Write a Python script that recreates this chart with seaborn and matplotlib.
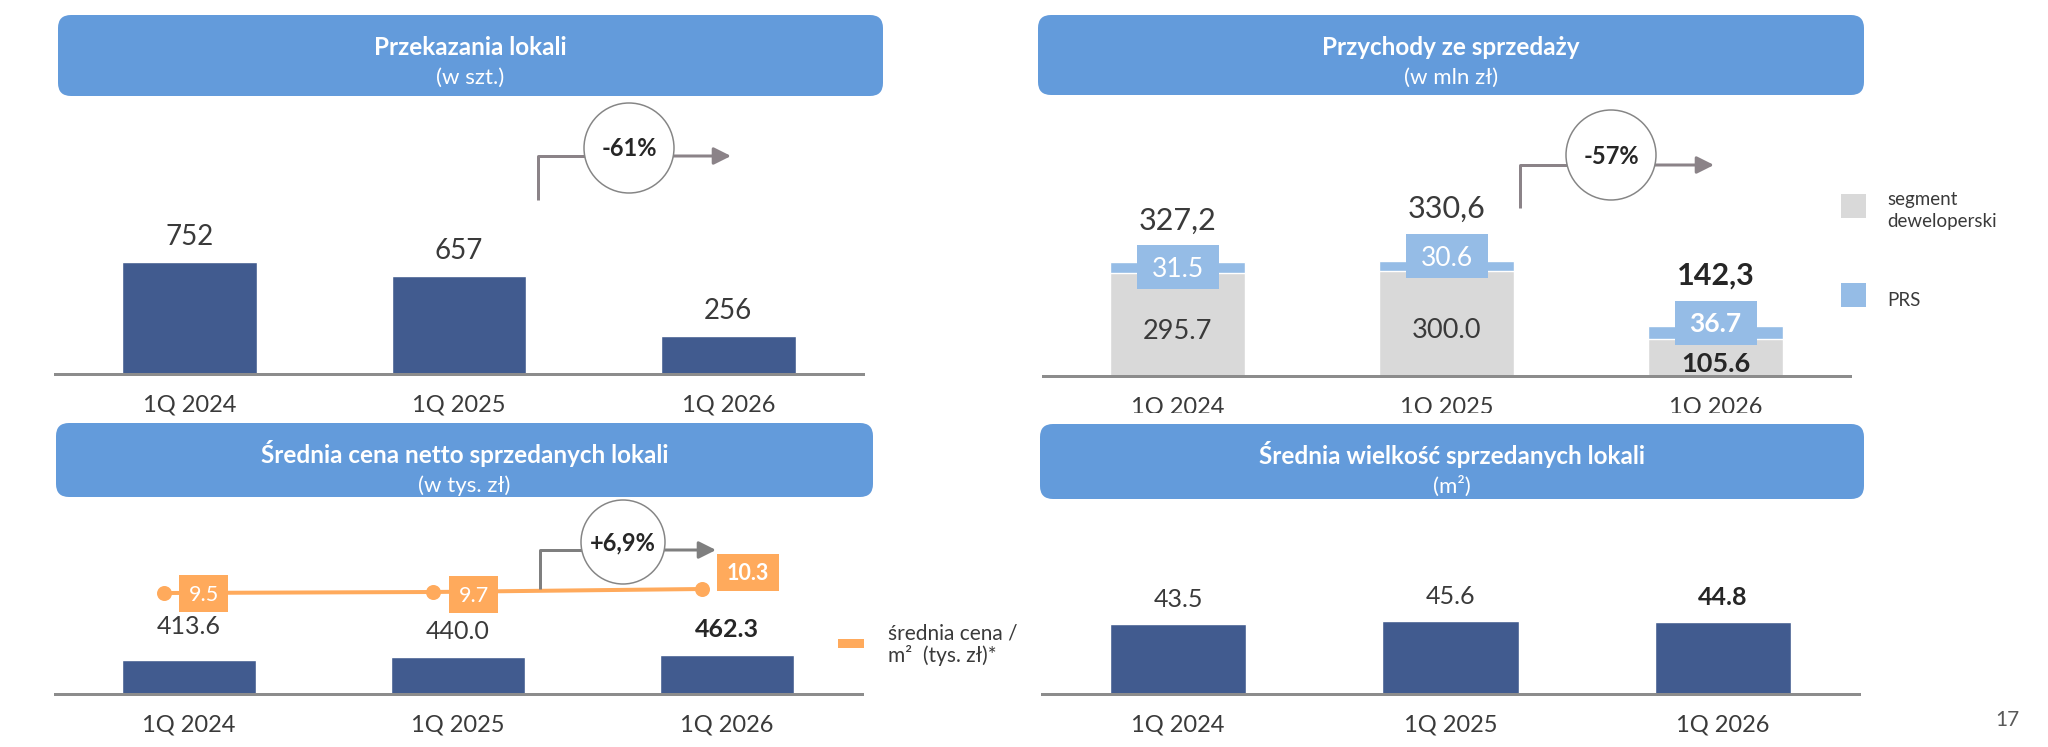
import numpy as np
import matplotlib
matplotlib.use('Agg')
import matplotlib.pyplot as plt
from matplotlib.patches import FancyBboxPatch, Rectangle, Ellipse
import seaborn as sns

sns.set_style('white')
plt.rcParams['font.family'] = ['Lato', 'DejaVu Sans']

W, H = 2048, 747
PT = 72 / 100          # points per pixel at dpi 100

# ── Data ─────────────────────────────────────────────────────────────────────
QUARTERS  = ['1Q 2024', '1Q 2025', '1Q 2026']
HANDOVERS = [752, 657, 256]                 # przekazania lokali (szt.)
REV_DEV   = [295.7, 300.0, 105.6]           # segment deweloperski (mln zł)
REV_PRS   = [31.5, 30.6, 36.7]              # PRS (mln zł)
AVG_PRICE = [413.6, 440.0, 462.3]           # średnia cena netto (tys. zł)
PRICE_M2  = [9.5, 9.7, 10.3]                # średnia cena / m2 (tys. zł)
AVG_SIZE  = [43.5, 45.6, 44.8]              # średnia wielkość (m2)
CHANGES   = ['-61%', '-57%', '+6,9%']

# ── Colours ──────────────────────────────────────────────────────────────────
HEADER  = '#639BDB'
NAVY    = '#415B8F'
GREY    = '#D9D9D9'
PRS     = '#95BCE6'
ORANGE  = '#FFAA5C'
TXT     = '#3A3A3A'
DARK    = '#262626'
AXIS    = '#8C8C8C'
ARROW_A = '#8B8388'
ARROW_B = '#7F7F7F'

fig = plt.figure(figsize=(W / 100, H / 100), dpi=100)
fig.patch.set_facecolor('white')


def panel(x0, x1, base, top):
    return fig.add_axes([x0 / W, 1 - base / H, (x1 - x0) / W, (base - top) / H])


def finish(ax, base, top, ppu):
    ax.set_xlim(-0.5, 2.5)
    ax.set_ylim(0, (base - top) / ppu)
    ax.set_yticks([])
    ax.set_xlabel('')
    ax.set_ylabel('')
    for side in ['top', 'right', 'left']:
        ax.spines[side].set_visible(False)
    ax.spines['bottom'].set_color(AXIS)
    ax.spines['bottom'].set_linewidth(3 * PT)
    ax.tick_params(axis='x', length=0, pad=15, labelsize=17, labelcolor=TXT)
    ax.patch.set_alpha(0)


# ── Panel 1: Przekazania lokali ──────────────────────────────────────────────
P1 = dict(base=374, top=100, ppu=112 / 752)
ax1 = panel(55, 863, P1['base'], P1['top'])
sns.barplot(x=QUARTERS, y=HANDOVERS, color=NAVY, saturation=1, width=0.5, ax=ax1)
finish(ax1, **P1)

# ── Panel 2: Przychody ze sprzedaży (stacked) ────────────────────────────────
rev_total = [d + p for d, p in zip(REV_DEV, REV_PRS)]
P2 = dict(base=376, top=100, ppu=114 / 327.2)
ax2 = panel(1043, 1850, P2['base'], P2['top'])
sns.barplot(x=QUARTERS, y=rev_total, color=PRS, saturation=1, width=0.5, ax=ax2)
sns.barplot(x=QUARTERS, y=REV_DEV, color=GREY, saturation=1, width=0.5, ax=ax2)
finish(ax2, **P2)

# ── Panel 3: Średnia cena netto + cena / m2 ──────────────────────────────────
P3 = dict(base=694, top=510, ppu=0.0834)
ax3 = panel(54.5, 861.5, P3['base'], P3['top'])
sns.barplot(x=QUARTERS, y=AVG_PRICE, color=NAVY, saturation=1, width=0.5, ax=ax3)
ax3t = ax3.twinx()
sns.lineplot(x=np.arange(len(PRICE_M2)) - 0.093, y=PRICE_M2, ax=ax3t,
             color=ORANGE, lw=4 * PT, marker='o', markersize=15 * PT,
             markeredgewidth=0)
ax3t.set_ylim(-10.7, 26.1)
ax3t.set_yticks([])
ax3t.set_ylabel('')
for sp in ax3t.spines.values():
    sp.set_visible(False)
finish(ax3, **P3)

# ── Panel 4: Średnia wielkość ────────────────────────────────────────────────
P4 = dict(base=694, top=510, ppu=70 / 43.5)
ax4 = panel(1042, 1859, P4['base'], P4['top'])
sns.barplot(x=QUARTERS, y=AVG_SIZE, color=NAVY, saturation=1, width=0.5, ax=ax4)
finish(ax4, **P4)

# ── Overlay in pixel coordinates ─────────────────────────────────────────────
ov = fig.add_axes([0, 0, 1, 1], zorder=10)
ov.set_xlim(0, W)
ov.set_ylim(H, 0)
ov.axis('off')


def to_px(ax, x, y):
    dx, dy = ax.transData.transform((x, y))
    return dx, H - dy


def label(x, yc, s, size, color=TXT, bold=False, ha='center', z=3):
    # vertically centre the cap height on yc
    ov.text(x, yc + 0.36 * size / PT, s, fontsize=size, color=color, ha=ha,
            va='baseline', fontweight='bold' if bold else 'normal', zorder=z)


def header(x0, y0, x1, y1, title, sub):
    ov.add_patch(FancyBboxPatch((x0, y0), x1 - x0, y1 - y0,
                                boxstyle='round,pad=0,rounding_size=13',
                                fc=HEADER, ec='none'))
    cx = (x0 + x1) / 2
    label(cx, y0 + 31, title, 17.5, color='white', bold=True)
    label(cx, y0 + 61, sub, 16, color='white')


def badge(vx, vy0, ly, cx, cy, r, x_end, s, color):
    ov.plot([vx, vx, cx], [vy0, ly, ly], color=color, lw=3 * PT,
            solid_capstyle='butt')
    ov.annotate('', xy=(x_end, ly), xytext=(cx, ly),
                arrowprops=dict(arrowstyle='-|>', color=color, lw=3 * PT,
                                mutation_scale=26, shrinkA=0, shrinkB=0))
    ov.add_patch(Ellipse((cx, cy), 2 * r, 2 * r, fc='white', ec='#858585',
                         lw=1.5 * PT, zorder=5))
    label(cx, cy, s, 17, color=DARK, bold=True, z=6)


header(58, 15, 883, 96, 'Przekazania lokali', '(w szt.)')
header(1038, 15, 1864, 95, 'Przychody ze sprzedaży', '(w mln zł)')
header(56, 423, 873, 497, 'Średnia cena netto sprzedanych lokali', '(w tys. zł)')
header(1040, 424, 1864, 499, 'Średnia wielkość sprzedanych lokali', '(m²)')

badge(538, 200, 156, 629, 148, 45, 731, CHANGES[0], ARROW_A)
badge(1520, 208, 165, 1611, 155, 45, 1714, CHANGES[1], ARROW_A)
badge(540, 589, 550, 623, 542, 42, 716, CHANGES[2], ARROW_B)

# Panel 1 value labels
for i, v in enumerate(HANDOVERS):
    x, yt = to_px(ax1, i, v)
    ov.text(x, yt - 17, f'{v}', fontsize=20, color=TXT, ha='center', va='baseline')

# Panel 2 value labels and PRS boxes
box_shift = [0, 10, 10]
for i, (d, p, t) in enumerate(zip(REV_DEV, REV_PRS, rev_total)):
    last = i == len(REV_DEV) - 1
    x, yb = to_px(ax2, i, d + p / 2)
    cy = yb - box_shift[i]
    ov.add_patch(Rectangle((x - 41, cy - 22), 82, 44, fc=PRS, ec='none'))
    label(x, cy, f'{p:.1f}', 19, color='white', bold=last)
    ov.text(x, cy - 22 - 16, f'{t:.1f}'.replace('.', ','), fontsize=22,
            color=DARK if last else TXT, ha='center', va='baseline',
            fontweight='bold' if last else 'normal')
    _, yg = to_px(ax2, i, d / 2)
    label(x, yg + 5, f'{d:.1f}', 19.5, color=DARK if last else TXT, bold=last)

# clip the bottom of panel 2 category labels like the slide
ov.add_patch(Rectangle((1030, 413), 840, 9, fc='white', ec='none'))

# Panel 2 legend
ov.add_patch(Rectangle((1841, 194), 25, 24, fc=GREY, ec='none'))
ov.add_patch(Rectangle((1841, 283), 25, 24, fc=PRS, ec='none'))
ov.text(1887, 205, 'segment', fontsize=13.5, color=TXT, va='baseline')
ov.text(1887, 227, 'deweloperski', fontsize=13.5, color=TXT, va='baseline')
ov.text(1887, 306, 'PRS', fontsize=13.5, color=TXT, va='baseline')

# Panel 3 value labels
price_dy = [26, 18, 18]
for i, v in enumerate(AVG_PRICE):
    last = i == len(AVG_PRICE) - 1
    x, yt = to_px(ax3, i, v)
    ov.text(x, yt - price_dy[i], f'{v:.1f}', fontsize=18,
            color=DARK if last else TXT, ha='center', va='baseline',
            fontweight='bold' if last else 'normal')

# Panel 3 orange price boxes
m2_off = [(40, 0), (41, 2), (46, -17)]
for i, v in enumerate(PRICE_M2):
    last = i == len(PRICE_M2) - 1
    x, y = to_px(ax3t, i - 0.093, v)
    s = f'{v:.1f}'
    bw = 13 * len(s) + 10
    cx, cy = x + m2_off[i][0], y + m2_off[i][1]
    ov.add_patch(Rectangle((cx - bw / 2, cy - 18.5), bw, 37, fc=ORANGE, ec='none'))
    label(cx, cy, s, 15.5, color='white', bold=last)

# Panel 3 legend
ov.add_patch(Rectangle((838, 639), 26, 9, fc=ORANGE, ec='none'))
ov.text(888, 639, 'średnia cena /', fontsize=15, color=TXT, va='baseline')
ov.text(888, 662, 'm²  (tys. zł)*', fontsize=15, color=TXT, va='baseline')

# Panel 4 value labels
for i, v in enumerate(AVG_SIZE):
    last = i == len(AVG_SIZE) - 1
    x, yt = to_px(ax4, i, v)
    ov.text(x, yt - 17, f'{v:.1f}', fontsize=18,
            color=DARK if last else TXT, ha='center', va='baseline',
            fontweight='bold' if last else 'normal')

# page number
ov.text(2007, 726, '17', fontsize=15, color='#595959', ha='center', va='baseline')

fig.savefig('out.png', dpi=100, facecolor='white')
